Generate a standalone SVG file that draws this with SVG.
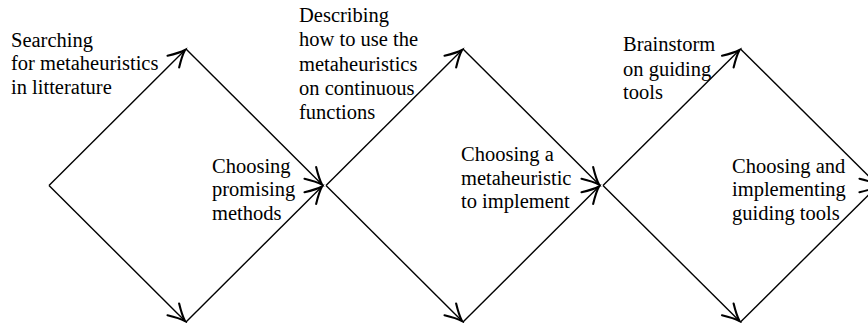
<svg xmlns="http://www.w3.org/2000/svg" width="868" height="323" viewBox="0 0 868 323">
  <style>
    .lbl { font-family: "Liberation Serif", "Times New Roman", serif; font-size: 20.5px; fill: #000; }
    .edge { stroke: #000; stroke-width: 1.4; fill: none; marker-end: url(#arr); }
  </style>
  <defs>
    <marker id="arr" markerUnits="userSpaceOnUse" markerWidth="24" markerHeight="24" viewBox="-14 -8 16 16" refX="0" refY="0" orient="auto" overflow="visible">
      <path d="M -11,-5.5 Q -4,-1.2 0,0 Q -4,1.2 -11,5.5" fill="none" stroke="#000" stroke-width="1.4" stroke-linecap="round"/>
    </marker>
  </defs>
  <rect width="868" height="323" fill="#fff"/>
  <g id="connectors">
    <line class="edge" x1="49" y1="185.5" x2="185" y2="50"/>
    <line class="edge" x1="49" y1="185.5" x2="185" y2="321"/>
    <line class="edge" x1="186" y1="49" x2="322" y2="184.5"/>
    <line class="edge" x1="186" y1="322" x2="322" y2="186.5"/>
    <line class="edge" x1="326" y1="185.5" x2="462" y2="50"/>
    <line class="edge" x1="326" y1="185.5" x2="462" y2="321"/>
    <line class="edge" x1="463" y1="49" x2="599" y2="184.5"/>
    <line class="edge" x1="463" y1="322" x2="599" y2="186.5"/>
    <line class="edge" x1="603" y1="185.5" x2="739.5" y2="50"/>
    <line class="edge" x1="603" y1="185.5" x2="739.5" y2="321"/>
    <line class="edge" x1="740.5" y1="49" x2="877" y2="184.5"/>
    <line class="edge" x1="740.5" y1="322" x2="877" y2="186.5"/>
  </g>
  <g id="n1">
    <text class="lbl" x="11" y="46.7">Searching</text>
    <text class="lbl" x="11" y="70.2">for metaheuristics</text>
    <text class="lbl" x="11" y="93.5">in litterature</text>
  </g>
  <g id="n2">
    <text class="lbl" x="212" y="172.6">Choosing</text>
    <text class="lbl" x="212" y="196.2">promising</text>
    <text class="lbl" x="212" y="220">methods</text>
  </g>
  <g id="n3">
    <text class="lbl" x="299" y="22">Describing</text>
    <text class="lbl" x="299" y="46.3">how to use the</text>
    <text class="lbl" x="299" y="70.5">metaheuristics</text>
    <text class="lbl" x="299" y="94.5">on continuous</text>
    <text class="lbl" x="299" y="118.7">functions</text>
  </g>
  <g id="n4">
    <text class="lbl" x="461" y="160.7">Choosing a</text>
    <text class="lbl" x="461" y="184.5">metaheuristic</text>
    <text class="lbl" x="461" y="208.3">to implement</text>
  </g>
  <g id="n5">
    <text class="lbl" x="623" y="50.7">Brainstorm</text>
    <text class="lbl" x="623" y="75.5">on guiding</text>
    <text class="lbl" x="623" y="99.3">tools</text>
  </g>
  <g id="n6">
    <text class="lbl" x="732" y="172.6">Choosing and</text>
    <text class="lbl" x="732" y="196.2">implementing</text>
    <text class="lbl" x="732" y="220">guiding tools</text>
  </g>
</svg>
